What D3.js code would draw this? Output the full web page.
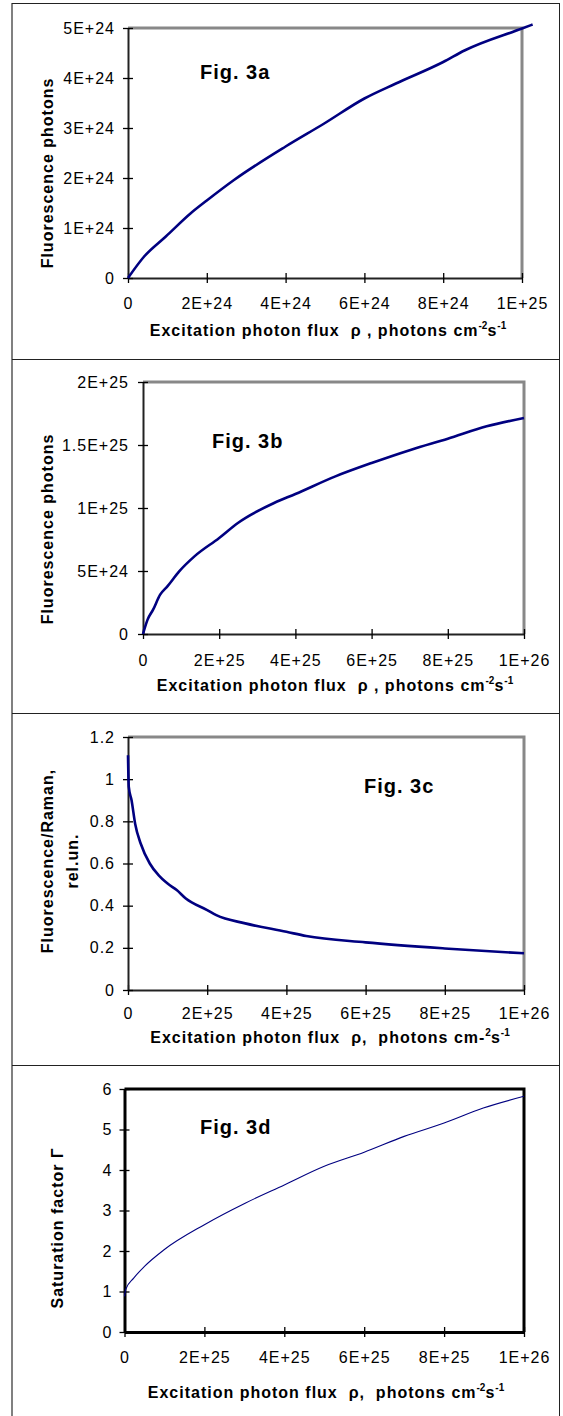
<!DOCTYPE html>
<html>
<head>
<meta charset="utf-8">
<script src="https://cdn.jsdelivr.net/npm/d3@7"></script>
<style>
  body { margin: 0; background: #fff; }
  svg { display: block; font-family: "Liberation Sans", Arial, sans-serif; }
  text { white-space: pre; letter-spacing: 1px; }
</style>
</head>
<body>
<svg width="563" height="1416"></svg>
<script>
// values
var fig3aX = [0, 4.1e23, 9.6e23, 1.6e24, 2.0e24, 2.69e24, 4.0e24, 4.98e24, 6.0e24, 6.8e24, 8.0e24, 8.54e24, 1.0e25, 1.027e25];
var fig3aY = [0, 4.3e23, 8.3e23, 1.3e24, 1.55e24, 1.96e24, 2.63e24, 3.09e24, 3.59e24, 3.89e24, 4.32e24, 4.55e24, 4.99e24, 5.07e24];

var fig3bX = [0, 1.2e24, 2.65e24, 4.5e24, 6.4e24, 9.5e24, 1.35e25, 2.0e25, 2.49e25, 3.44e25, 4.0e25, 5.05e25, 6.0e25, 7.04e25, 8.0e25, 9.02e25, 1.0e26];
var fig3bY = [0, 1.14e24, 1.93e24, 3.12e24, 3.78e24, 4.97e24, 6.16e24, 7.62e24, 8.81e24, 1.04e25, 1.111e25, 1.251e25, 1.357e25, 1.463e25, 1.55e25, 1.648e25, 1.714e25];

var fig3cX = [0, 2e23, 9e23, 1.8e24, 3.2e24, 5.5e24, 7.7e24, 1.0e25, 1.23e25, 1.46e25, 2.0e25, 2.23e25, 2.96e25, 4.0e25, 4.5e25, 6.0e25, 8.0e25, 1.0e26];
var fig3cY = [1.113, 0.963, 0.9, 0.789, 0.695, 0.6, 0.545, 0.505, 0.474, 0.434, 0.379, 0.355, 0.316, 0.276, 0.256, 0.226, 0.197, 0.174];

var fig3dX = [0, 3e23, 2.3e24, 5.0e24, 9.9e24, 2.0e25, 3.02e25, 4.0e25, 5.0e25, 6.0e25, 7.0e25, 8.0e25, 8.98e25, 1.0e26];
var fig3dY = [0.88, 1.05, 1.33, 1.62, 2.03, 2.65, 3.18, 3.63, 4.09, 4.44, 4.83, 5.16, 5.53, 5.82];

// tick values and their labels
var xTicksA = [0, 2e24, 4e24, 6e24, 8e24, 1e25];
var xLabelsA = ['0', '2E+24', '4E+24', '6E+24', '8E+24', '1E+25'];
var yTicksA = [0, 1e24, 2e24, 3e24, 4e24, 5e24];
var yLabelsA = ['0', '1E+24', '2E+24', '3E+24', '4E+24', '5E+24'];

var xTicksB = [0, 2e25, 4e25, 6e25, 8e25, 1e26];
var xLabelsB = ['0', '2E+25', '4E+25', '6E+25', '8E+25', '1E+26'];
var yTicksB = [0, 5e24, 1e25, 1.5e25, 2e25];
var yLabelsB = ['0', '5E+24', '1E+25', '1.5E+25', '2E+25'];

var yTicksC = [0, 0.2, 0.4, 0.6, 0.8, 1, 1.2];
var yLabelsC = ['0', '0.2', '0.4', '0.6', '0.8', '1', '1.2'];

var yTicksD = [0, 1, 2, 3, 4, 5, 6];
var yLabelsD = ['0', '1', '2', '3', '4', '5', '6'];

var svg = d3.select('svg');

// table frame around the four figures
var frame = svg.append('g');
frame.append('line').attr('x1', 12).attr('x2', 12).attr('y1', 3).attr('y2', 1416)
  .attr('stroke', '#808080').attr('stroke-width', 2);
frame.append('line').attr('x1', 559.5).attr('x2', 559.5).attr('y1', 3).attr('y2', 1416)
  .attr('stroke', '#222').attr('stroke-width', 1);
[3.5, 359.5, 713.5, 1065.5].forEach(function(y) {
  frame.append('line').attr('x1', 12).attr('x2', 560).attr('y1', y).attr('y2', y)
    .attr('stroke', '#222').attr('stroke-width', 1);
});

var drawPanel = function(p) {
  var x = d3.scaleLinear().domain(p.xDomain).range([p.left, p.right]);
  var y = d3.scaleLinear().domain(p.yDomain).range([p.bottom, p.top]);
  var g = svg.append('g');

  // top and right sides of the plot box
  g.append('path')
    .attr('d', 'M' + p.left + ',' + p.top + 'H' + p.right + 'V' + p.bottom)
    .attr('fill', 'none')
    .attr('stroke', p.boxColor)
    .attr('stroke-width', p.boxWidth);

  var xAxis = g.append('g')
    .attr('transform', 'translate(0,' + p.bottom + ')')
    .call(d3.axisBottom(x).tickValues(p.xTicks)
      .tickFormat(function(d, i) { return p.xLabels[i]; }).tickSizeOuter(0));
  var yAxis = g.append('g')
    .attr('transform', 'translate(' + p.left + ',0)')
    .call(d3.axisLeft(y).tickValues(p.yTicks)
      .tickFormat(function(d, i) { return p.yLabels[i]; }).tickSizeOuter(0));

  [xAxis, yAxis].forEach(function(a) {
    a.select('.domain').attr('stroke', p.axisColor).attr('stroke-width', p.axisWidth);
    a.selectAll('text').attr('font-family', null).attr('font-size', 16).attr('fill', '#000');
    a.selectAll('.tick line').attr('stroke', '#000').attr('stroke-width', 1.3);
  });
  xAxis.selectAll('.tick line').attr('y1', -5).attr('y2', 5);
  xAxis.selectAll('text').attr('y', p.xLabelGap).attr('dy', '0.35em');
  yAxis.selectAll('.tick line').attr('x1', -5).attr('x2', 5);
  yAxis.selectAll('text').attr('x', -p.yLabelGap + 1);

  var line = d3.line()
    .x(function(d) { return x(d[0]); })
    .y(function(d) { return y(d[1]); })
    .curve(d3.curveMonotoneX);
  g.append('path')
    .datum(d3.zip(p.xs, p.ys))
    .attr('fill', 'none')
    .attr('stroke', '#000080')
    .attr('stroke-width', p.lineWidth)
    .attr('stroke-linejoin', 'round')
    .attr('d', line);

  // figure tag
  g.append('text')
    .attr('x', p.figX).attr('y', p.figY)
    .attr('font-size', 20).attr('font-weight', 'bold')
    .text(p.fig);

  // y title, possibly on two lines
  p.yTitle.forEach(function(t, i) {
    g.append('text')
      .attr('transform', 'translate(' + p.yTitleX[i] + ',' + p.yTitleY + ') rotate(-90)')
      .attr('text-anchor', 'middle')
      .attr('font-size', 16).attr('font-weight', 'bold')
      .text(t);
  });

  // x title with superscripts
  var xt = g.append('text')
    .attr('x', p.xTitleX).attr('y', p.xTitleY)
    .attr('text-anchor', 'middle')
    .attr('font-size', 16).attr('font-weight', 'bold');
  p.xTitle.forEach(function(part) {
    var ts = xt.append('tspan').text(part.t);
    if (part.sup) ts.attr('font-size', 10).attr('dy', -7).style('letter-spacing', '0px');
    if (part.down) ts.attr('dy', 7);
  });
};

var titleSupA = [
  {t: 'Excitation photon flux  \u03c1 , photons cm'},
  {t: '-2', sup: true}, {t: 's', down: true}, {t: '-1', sup: true}
];

drawPanel({
  left: 128, right: 522, top: 28, bottom: 278,
  xDomain: [0, 1e25], yDomain: [0, 5e24],
  xTicks: xTicksA, xLabels: xLabelsA, yTicks: yTicksA, yLabels: yLabelsA,
  xs: fig3aX, ys: fig3aY, lineWidth: 2.6,
  boxColor: '#888', boxWidth: 3, axisColor: '#222', axisWidth: 2,
  xLabelGap: 25, yLabelGap: 14,
  fig: 'Fig. 3a', figX: 200, figY: 79,
  yTitle: ['Fluorescence photons'], yTitleX: [53], yTitleY: 173,
  xTitle: titleSupA, xTitleX: 328, xTitleY: 336
});

drawPanel({
  left: 143, right: 524, top: 382, bottom: 634,
  xDomain: [0, 1e26], yDomain: [0, 2e25],
  xTicks: xTicksB, xLabels: xLabelsB, yTicks: yTicksB, yLabels: yLabelsB,
  xs: fig3bX, ys: fig3bY, lineWidth: 2.6,
  boxColor: '#888', boxWidth: 3, axisColor: '#222', axisWidth: 2,
  xLabelGap: 26, yLabelGap: 15,
  fig: 'Fig. 3b', figX: 212, figY: 448,
  yTitle: ['Fluorescence photons'], yTitleX: [53], yTitleY: 529,
  xTitle: titleSupA, xTitleX: 335, xTitleY: 691
});

drawPanel({
  left: 128, right: 524, top: 737, bottom: 990,
  xDomain: [0, 1e26], yDomain: [0, 1.2],
  xTicks: xTicksB, xLabels: xLabelsB, yTicks: yTicksC, yLabels: yLabelsC,
  xs: fig3cX, ys: fig3cY, lineWidth: 2.6,
  boxColor: '#888', boxWidth: 3, axisColor: '#222', axisWidth: 2,
  xLabelGap: 23, yLabelGap: 14,
  fig: 'Fig. 3c', figX: 364, figY: 793,
  yTitle: ['Fluorescence/Raman,', 'rel.un.'], yTitleX: [53, 78], yTitleY: 861,
  xTitle: [
    {t: 'Excitation photon flux  \u03c1,  photons cm-'},
    {t: '2', sup: true}, {t: 's', down: true}, {t: '-1', sup: true}
  ],
  xTitleX: 330, xTitleY: 1043
});

drawPanel({
  left: 124.5, right: 524, top: 1089, bottom: 1332,
  xDomain: [0, 1e26], yDomain: [0, 6],
  xTicks: xTicksB, xLabels: xLabelsB, yTicks: yTicksD, yLabels: yLabelsD,
  xs: fig3dX, ys: fig3dY, lineWidth: 1.1,
  boxColor: '#000', boxWidth: 3, axisColor: '#000', axisWidth: 3,
  xLabelGap: 25, yLabelGap: 13,
  fig: 'Fig. 3d', figX: 200, figY: 1134,
  yTitle: ['Saturation factor \u0393'], yTitleX: [63], yTitleY: 1228,
  xTitle: [
    {t: 'Excitation photon flux  \u03c1,  photons cm'},
    {t: '-2', sup: true}, {t: 's', down: true}, {t: '-1', sup: true}
  ],
  xTitleX: 326, xTitleY: 1398
});
</script>
</body>
</html>
